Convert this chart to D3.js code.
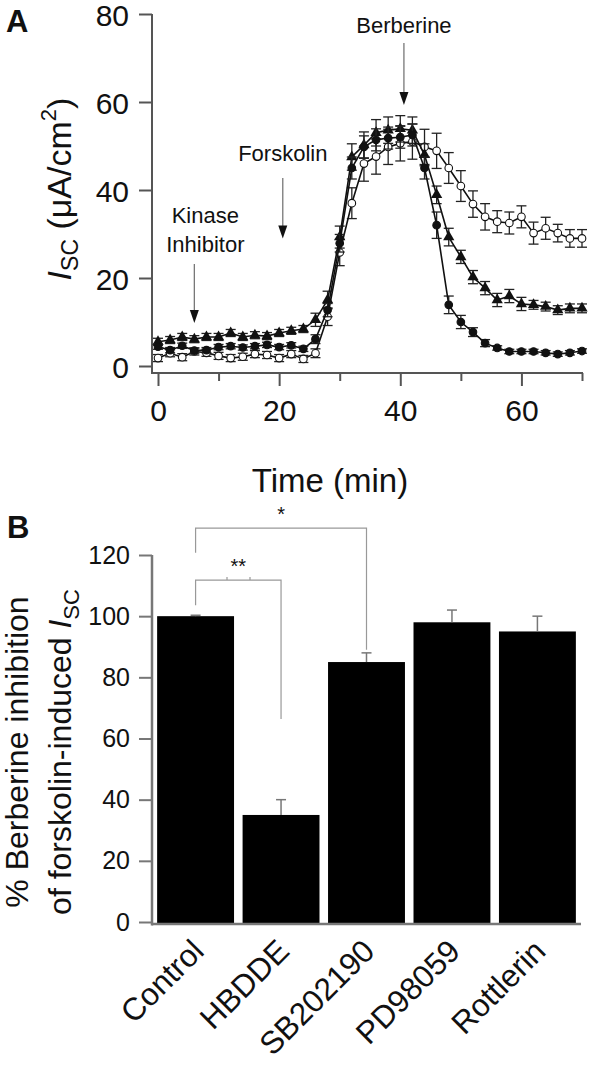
<!DOCTYPE html>
<html><head><meta charset="utf-8">
<script src="https://cdn.jsdelivr.net/npm/d3@7"></script>
<style>
body{margin:0;background:#fff}
svg{display:block}
text{font-family:Arial,"Liberation Sans",Helvetica,sans-serif;fill:#111}
</style>
</head><body>
<svg id="c" width="590" height="1065"></svg>
<script>
// ---------- Panel A data ----------
const times = [0,2,4,6,8,10,12,14,16,18,20,22,24,26,28,30,32,34,36,38,40,42,44,46,48,50,52,54,56,58,60,62,64,66,68,70];
const triVals = [5.5,5.9,6.6,6.1,6.6,6.6,7.5,6.6,7.0,6.8,7.5,8.0,8.4,10.5,15.0,29.3,47.5,50.2,53.0,53.6,53.9,53.6,48.0,38.9,29.3,24.8,20.2,17.7,15.0,15.9,14.1,13.9,13.5,12.7,13.1,13.1];
const triErr  = [0.8,0.8,0.8,0.8,0.8,0.8,0.8,0.8,0.8,0.8,0.8,0.8,0.8,1.5,2.0,2.5,3.0,3.0,3.0,3.0,3.0,3.0,2.5,2.0,2.0,1.5,1.5,1.5,1.5,1.5,1.5,1.0,1.0,1.0,1.0,1.0];
const fcVals  = [4.4,3.6,4.6,3.5,3.6,4.3,4.5,4.2,4.5,4.8,4.3,4.7,3.9,6.1,12.7,27.9,45.0,49.8,51.4,51.8,52.0,52.5,45.0,32.0,13.9,10.0,7.7,5.2,4.1,3.3,3.3,3.3,3.0,2.7,3.0,3.4];
const fcErr   = [0.6,0.6,0.6,0.6,0.6,0.6,0.6,0.6,0.6,0.6,0.6,0.6,0.6,1.0,1.5,2.0,2.5,2.5,2.5,2.5,2.5,2.5,2.5,3.0,2.0,1.5,1.0,0.8,0.5,0.5,0.5,0.5,0.5,0.5,0.5,0.5];
const ocVals  = [1.8,2.9,2.0,3.3,3.0,2.3,1.8,2.1,2.7,2.5,1.8,2.7,1.6,2.9,11.2,25.8,37.0,46.0,47.6,49.8,50.6,51.0,49.8,48.9,45.0,40.9,36.8,33.9,32.8,32.5,33.9,30.2,31.3,30.2,29.0,29.0];
const ocErr   = [0.8,0.8,0.8,0.8,0.8,0.8,0.8,0.8,0.8,0.8,0.8,0.8,0.8,1.0,2.0,3.0,3.5,4.0,4.0,4.0,4.0,4.0,4.0,4.0,3.5,3.5,3.0,3.0,2.5,2.5,2.5,2.5,2.5,2.0,2.0,2.0];
const aYTicks = [0,20,40,60,80];
const aXTicks = [0,10,20,30,40,50,60,70];
const aXLabels = [0,20,40,60];
const annotations = [
  {lines:["Kinase","Inhibitor"], t:6,    tip:9.8,  tail:23.2, label:25.9, dx:11},
  {lines:["Forskolin"],          t:20.6, tip:29,   tail:42.7, label:46.6, dx:0},
  {lines:["Berberine"],          t:40.6, tip:59.3, tail:73.4, label:75.7, dx:0}
];

// ---------- Panel B data ----------
const categories = ["Control","HBDDE","SB202190","PD98059","Rottlerin"];
const barVals = [100,35,85,98,95];
const barErr  = [0.3,5,3,4,5];
const bYTicks = [0,20,40,60,80,100,120];
const sigPairs = [
  {a:"Control", b:"HBDDE",    label:"**", level:111.8, legA:103.6, legB:66.4},
  {a:"Control", b:"SB202190", label:"*",  level:128.8, legA:120.7, legB:89}
];

const svg = d3.select("#c");
const axisCol = "#555";
const ff = "Arial,'Liberation Sans',sans-serif";

// ================= Panel A =================
const x = d3.scaleLinear().domain([0,70]).range([158,582]);
const y = d3.scaleLinear().domain([0,80]).range([366,14]);
const xAxisY = 373, yAxisX = 152;

svg.append("text").attr("x",6).attr("y",32).attr("font-size",31).attr("font-weight","bold").text("A");

// y axis
const gy = svg.append("g").attr("transform",`translate(${yAxisX},0)`)
  .call(d3.axisLeft(y).tickValues(aYTicks).tickSize(13).tickPadding(10));
gy.select(".domain").remove();
gy.selectAll(".tick line").attr("stroke",axisCol).attr("stroke-width",2);
gy.selectAll(".tick text").attr("font-size",30).attr("fill","#111").attr("font-family",ff).attr("dy","0.37em");
svg.append("line").attr("x1",yAxisX).attr("x2",yAxisX).attr("y1",y(80)).attr("y2",xAxisY+1)
  .attr("stroke",axisCol).attr("stroke-width",2);

// x axis
const gx = svg.append("g").attr("transform",`translate(0,${xAxisY})`)
  .call(d3.axisBottom(x).tickValues(aXTicks).tickSize(13).tickPadding(14)
    .tickFormat(d=>aXLabels.includes(d)?d:""));
gx.select(".domain").remove();
gx.selectAll(".tick line").attr("stroke",axisCol).attr("stroke-width",2)
  .attr("y2",d=>aXLabels.includes(d)?13:8);
gx.selectAll(".tick text").attr("font-size",30).attr("fill","#111").attr("font-family",ff);
svg.append("line").attr("x1",yAxisX).attr("x2",x(70)+1).attr("y1",xAxisY).attr("y2",xAxisY)
  .attr("stroke",axisCol).attr("stroke-width",2);

svg.append("text").attr("x",330).attr("y",492).attr("text-anchor","middle").attr("font-size",33).text("Time (min)");

// y label
const yl = svg.append("text").attr("transform","translate(71,189) rotate(-90)").attr("text-anchor","middle").attr("font-size",34);
yl.append("tspan").attr("font-style","italic").text("I");
yl.append("tspan").attr("font-size",23).attr("dy",7).text("SC");
yl.append("tspan").attr("dy",-7).text(" (\u03bcA/cm");
yl.append("tspan").attr("font-size",22).attr("dy",-15).text("2");
yl.append("tspan").attr("dy",15).text(")");

// annotations
annotations.forEach(a=>{
  const ax = x(a.t);
  svg.append("line").attr("x1",ax).attr("x2",ax).attr("y1",y(a.tail)).attr("y2",y(a.tip)-10)
    .attr("stroke","#777").attr("stroke-width",1.3);
  svg.append("path").attr("d",`M${ax-4.5},${y(a.tip)-13}L${ax+4.5},${y(a.tip)-13}L${ax},${y(a.tip)}Z`).attr("fill","#111");
  const n = a.lines.length;
  a.lines.forEach((l,i)=>{
    svg.append("text").attr("x",ax+a.dx).attr("y",y(a.label)-(n-1-i)*29).attr("text-anchor","middle")
      .attr("font-size",22).attr("fill","#222").text(l);
  });
});

// series
const series = [
  {vals:ocVals, errs:ocErr, marker:"open"},
  {vals:triVals, errs:triErr, marker:"tri"},
  {vals:fcVals, errs:fcErr, marker:"fill"}
];
const line = d3.line().x(d=>x(d[0])).y(d=>y(d[1]));
const cap = 5;
series.forEach(s=>{
  const pts = times.map((t,i)=>[t,s.vals[i],s.errs[i]]);
  const g = svg.append("g");
  const eb = g.append("g").attr("stroke","#222").attr("stroke-width",1.3);
  pts.forEach(p=>{
    const px=x(p[0]), y1=y(p[1]-p[2]), y2=y(p[1]+p[2]);
    eb.append("line").attr("x1",px).attr("x2",px).attr("y1",y1).attr("y2",y2);
    eb.append("line").attr("x1",px-cap).attr("x2",px+cap).attr("y1",y1).attr("y2",y1);
    eb.append("line").attr("x1",px-cap).attr("x2",px+cap).attr("y1",y2).attr("y2",y2);
  });
  g.append("path").datum(pts).attr("d",line).attr("fill","none").attr("stroke","#111").attr("stroke-width",1.6);
  if(s.marker==="tri"){
    g.selectAll("path.m").data(pts).enter().append("path").attr("class","m")
      .attr("d",d3.symbol(d3.symbolTriangle).size(55))
      .attr("transform",d=>`translate(${x(d[0])},${y(d[1])})`).attr("fill","#111");
  } else {
    g.selectAll("circle").data(pts).enter().append("circle")
      .attr("cx",d=>x(d[0])).attr("cy",d=>y(d[1])).attr("r",3.8)
      .attr("fill",s.marker==="open"?"#fff":"#111").attr("stroke","#111").attr("stroke-width",1.1);
  }
});

// ================= Panel B =================
const yb = d3.scaleLinear().domain([0,120]).range([922,555]);
const xb = d3.scaleBand().domain(categories).range([152,581]).paddingInner(0.1).paddingOuter(0.06);
const bAxisY = 924;

svg.append("text").attr("x",7).attr("y",538).attr("font-size",31).attr("font-weight","bold").text("B");

const gyb = svg.append("g").attr("transform",`translate(${yAxisX},0)`)
  .call(d3.axisLeft(yb).tickValues(bYTicks).tickSize(13).tickPadding(9));
gyb.select(".domain").remove();
gyb.selectAll(".tick line").attr("stroke","#777").attr("stroke-width",2);
gyb.selectAll(".tick text").attr("font-size",25).attr("fill","#111").attr("font-family",ff);

// bars
svg.append("g").selectAll("rect").data(categories).enter().append("rect")
  .attr("x",d=>xb(d)).attr("width",xb.bandwidth())
  .attr("y",(d,i)=>yb(barVals[i])).attr("height",(d,i)=>yb(0)-yb(barVals[i])+2)
  .attr("fill","#000");
// error bars (upward only)
const ebg = svg.append("g").attr("stroke","#777").attr("stroke-width",1.5);
categories.forEach((c,i)=>{
  const cx = xb(c)+xb.bandwidth()/2;
  ebg.append("line").attr("x1",cx).attr("x2",cx).attr("y1",yb(barVals[i])).attr("y2",yb(barVals[i]+barErr[i]));
  ebg.append("line").attr("x1",cx-5).attr("x2",cx+5).attr("y1",yb(barVals[i]+barErr[i])).attr("y2",yb(barVals[i]+barErr[i]));
});

// axes lines
svg.append("line").attr("x1",yAxisX).attr("x2",yAxisX).attr("y1",yb(120)).attr("y2",bAxisY+1.5)
  .attr("stroke","#777").attr("stroke-width",2.5);
svg.append("line").attr("x1",yAxisX).attr("x2",581).attr("y1",bAxisY).attr("y2",bAxisY)
  .attr("stroke","#777").attr("stroke-width",2.5);

// category labels
svg.append("g").selectAll("text").data(categories).enter().append("text")
  .attr("transform",d=>`translate(${xb(d)+xb.bandwidth()/2+10},953) rotate(-45)`)
  .attr("text-anchor","end").attr("font-size",31.5).text(d=>d);

// significance brackets
const sg = svg.append("g").attr("stroke","#999").attr("stroke-width",1.2).attr("fill","none");
sigPairs.forEach(s=>{
  const xa = xb(s.a)+xb.bandwidth()/2, xbb = xb(s.b)+xb.bandwidth()/2;
  sg.append("path").attr("d",`M${xa},${yb(s.legA)}V${yb(s.level)}H${xbb}V${yb(s.legB)}`);
  svg.append("text").attr("x",(xa+xbb)/2).attr("y",yb(s.level)-7).attr("text-anchor","middle")
    .attr("font-size",20).attr("fill","#333").text(s.label);
});
// small notches on ** bracket
[227,250].forEach(nx=>{
  sg.append("line").attr("x1",nx).attr("x2",nx).attr("y1",yb(111.8)).attr("y2",yb(111.8)-3);
});

// y label B
const ybl = svg.append("g").attr("transform","translate(0,752) rotate(-90)");
ybl.append("text").attr("x",0).attr("y",28).attr("text-anchor","middle").attr("font-size",32).text("% Berberine inhibition");
const t2 = ybl.append("text").attr("x",0).attr("y",71).attr("text-anchor","middle").attr("font-size",32);
t2.append("tspan").text("of forskolin-induced ");
t2.append("tspan").attr("font-style","italic").text("I");
t2.append("tspan").attr("font-size",22).attr("dy",8).text("SC");
</script>
</body></html>
